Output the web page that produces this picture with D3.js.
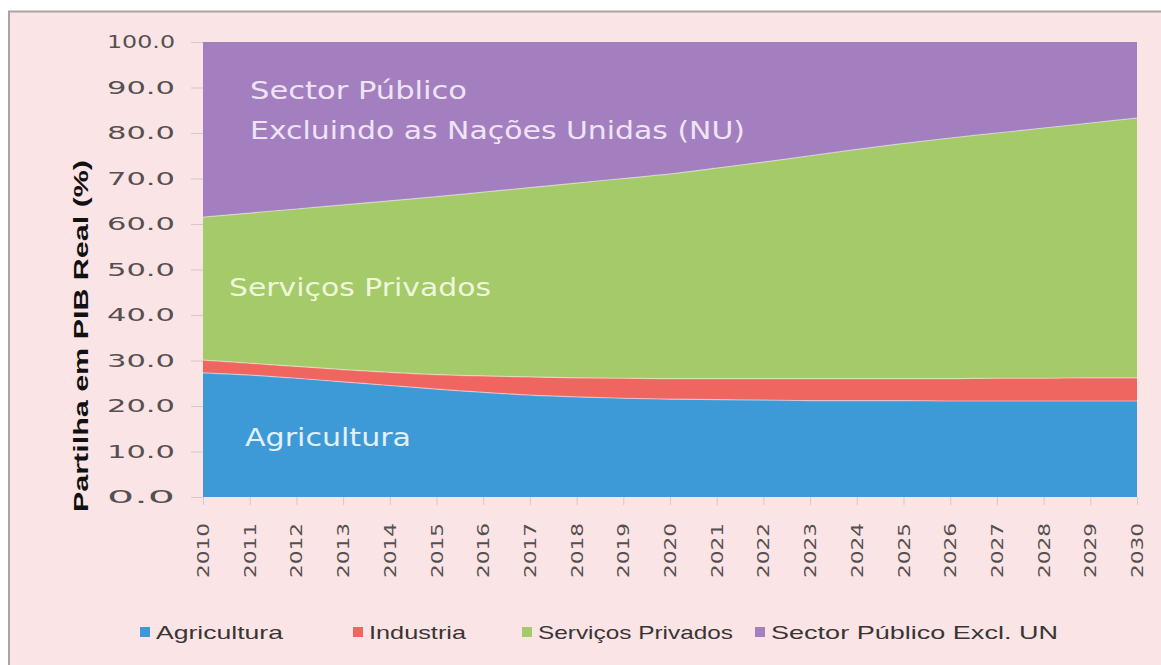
<!DOCTYPE html>
<html>
<head>
<meta charset="utf-8">
<script src="https://cdn.jsdelivr.net/npm/d3@7"></script>
<style>
  html, body { margin: 0; padding: 0; background: #ffffff; }
  svg { display: block; }
</style>
</head>
<body>
<svg id="chart" width="1161" height="665"></svg>
<script>
// Years on the horizontal axis
const years = [2010, 2011, 2012, 2013, 2014, 2015, 2016, 2017, 2018, 2019, 2020,
               2021, 2022, 2023, 2024, 2025, 2026, 2027, 2028, 2029, 2030];

// Share of real GDP (%) by sector
const agricultura = [27.3, 26.8, 26.1, 25.3, 24.5, 23.7, 23.0, 22.4, 22.0, 21.7, 21.5,
                     21.4, 21.3, 21.2, 21.2, 21.2, 21.1, 21.1, 21.1, 21.1, 21.1];
const industria   = [2.8, 2.6, 2.6, 2.7, 2.9, 3.2, 3.6, 4.0, 4.2, 4.4, 4.5,
                     4.6, 4.7, 4.8, 4.8, 4.8, 4.9, 5.0, 5.0, 5.1, 5.1];
const servicos    = [31.4, 33.0, 34.6, 36.2, 37.7, 39.1, 40.4, 41.6, 42.8, 43.9, 45.0,
                     46.3, 47.6, 49.0, 50.4, 51.7, 52.9, 53.9, 55.0, 56.0, 57.1];
const publico     = [38.5, 37.6, 36.7, 35.8, 34.9, 34.0, 33.0, 32.0, 31.0, 30.0, 29.0,
                     27.7, 26.4, 25.0, 23.6, 22.3, 21.1, 20.0, 18.9, 17.8, 16.7];

// Axis tick labels
const yTicks = [0, 10, 20, 30, 40, 50, 60, 70, 80, 90, 100];

// Series names (legend) and keys
const seriesKeys   = ["agricultura", "industria", "servicos", "publico"];
const legendLabels = ["Agricultura", "Industria", "Serviços Privados", "Sector Público Excl. UN"];
const colors       = ["#3d9ad6", "#ef6661", "#a5ca6a", "#a47fc0"];

// Table for the stack generator
const table = years.map((y, i) => ({
  year: y,
  agricultura: agricultura[i],
  industria: industria[i],
  servicos: servicos[i],
  publico: publico[i]
}));

const svg = d3.select("#chart");
const W = 1161, H = 665;

// Panel background and frame
svg.append("rect").attr("x", 0).attr("y", 0).attr("width", W).attr("height", H).attr("fill", "#ffffff");
svg.append("rect").attr("x", 9).attr("y", 11).attr("width", W - 9).attr("height", H - 11).attr("fill", "#fbe4e5");
svg.append("line").attr("x1", 8).attr("x2", W).attr("y1", 11.5).attr("y2", 11.5)
  .attr("stroke", "#a9a4a2").attr("stroke-width", 2);
svg.append("line").attr("x1", 9).attr("x2", 9).attr("y1", 11).attr("y2", H)
  .attr("stroke", "#a9a4a2").attr("stroke-width", 2);

const margin = { left: 203, right: 1137, top: 42, bottom: 497 };

const x = d3.scaleLinear().domain([2010, 2030]).range([margin.left, margin.right]);
const y = d3.scaleLinear().domain([0, 100]).range([margin.bottom, margin.top]);

const stack = d3.stack().keys(seriesKeys);
const layers = stack(table);

const area = d3.area()
  .x(d => x(d.data.year))
  .y0(d => y(d[0]))
  .y1(d => y(d[1]))
  .curve(d3.curveMonotoneX);

const topLine = d3.line()
  .x(d => x(d.data.year))
  .y(d => y(d[1]))
  .curve(d3.curveMonotoneX);

svg.append("g").selectAll("path")
  .data(layers)
  .join("path")
  .attr("d", area)
  .attr("fill", (d, i) => colors[i]);

// Thin light seams between stacked layers
svg.append("g").selectAll("path")
  .data(layers.slice(0, 3))
  .join("path")
  .attr("d", topLine)
  .attr("fill", "none")
  .attr("stroke", "#ffffff")
  .attr("stroke-opacity", 0.45)
  .attr("stroke-width", 1.2);

// Y axis
const yAxis = d3.axisLeft(y)
  .tickValues(yTicks)
  .tickFormat(d3.format(".1f"))
  .tickSize(12)
  .tickPadding(16);

const gy = svg.append("g").attr("transform", `translate(${margin.left},0)`).call(yAxis);
gy.select(".domain").remove();
gy.selectAll(".tick line").attr("stroke", "#d9c6c6").attr("stroke-width", 1);
gy.selectAll(".tick text")
  .attr("fill", "#555050")
  .attr("font-family", "DejaVu Sans, Verdana, sans-serif")
  .attr("font-size", 18)
  .attr("x", -28)
  .attr("textLength", 68)
  .attr("lengthAdjust", "spacingAndGlyphs");

// X axis with vertical year labels
const xAxis = d3.axisBottom(x)
  .tickValues(years)
  .tickFormat(d3.format("d"))
  .tickSize(8);

const gx = svg.append("g").attr("transform", `translate(0,${margin.bottom})`).call(xAxis);
gx.select(".domain").remove();
gx.selectAll(".tick line").attr("stroke", "#d9c6c6").attr("stroke-width", 1);
gx.selectAll(".tick text")
  .attr("fill", "#555050")
  .attr("font-family", "DejaVu Sans, Verdana, sans-serif")
  .attr("font-size", 16)
  .attr("transform", "rotate(-90)")
  .attr("text-anchor", "end")
  .attr("dominant-baseline", "central")
  .attr("dy", 0)
  .attr("x", -26)
  .attr("y", 0)
  .attr("textLength", 55)
  .attr("lengthAdjust", "spacingAndGlyphs");

// Y axis title
svg.append("text")
  .attr("transform", "translate(80,336) rotate(-90)")
  .attr("text-anchor", "middle")
  .attr("dominant-baseline", "central")
  .attr("font-family", "Liberation Sans, Arial, sans-serif")
  .attr("font-weight", "bold")
  .attr("font-size", 21)
  .attr("fill", "#111111")
  .attr("textLength", 352)
  .attr("lengthAdjust", "spacingAndGlyphs")
  .text("Partilha em PIB Real  (%)");

// Labels inside the areas
const inLabels = [
  { text: "Sector Público", x: 250, y: 99, w: 217, c: "#efe4f6" },
  { text: "Excluindo as Nações Unidas (NU)", x: 250, y: 139, w: 495, c: "#efe4f6" },
  { text: "Serviços Privados", x: 229, y: 296, w: 262, c: "#eef7dc" },
  { text: "Agricultura", x: 245, y: 446, w: 166, c: "#e2f1fb" }
];
svg.append("g").selectAll("text")
  .data(inLabels)
  .join("text")
  .attr("x", d => d.x)
  .attr("y", d => d.y)
  .attr("fill", d => d.c)
  .attr("font-family", "DejaVu Sans, Verdana, sans-serif")
  .attr("font-size", 24)
  .attr("textLength", d => d.w)
  .attr("lengthAdjust", "spacingAndGlyphs")
  .text(d => d.text);

// Legend
const legendX = [140, 353, 522, 755];
const legendW = [127, 97, 195, 287];
const lg = svg.append("g").selectAll("g")
  .data(legendLabels)
  .join("g")
  .attr("transform", (d, i) => `translate(${legendX[i]},632)`);
lg.append("rect")
  .attr("x", 0).attr("y", -5).attr("width", 10).attr("height", 10)
  .attr("fill", (d, i) => colors[i]);
lg.append("text")
  .attr("x", 16)
  .attr("y", 0)
  .attr("dominant-baseline", "central")
  .attr("fill", "#3a3535")
  .attr("font-family", "Liberation Sans Narrow, Liberation Sans, Arial, sans-serif")
  .attr("font-size", 19)
  .attr("textLength", (d, i) => legendW[i])
  .attr("lengthAdjust", "spacingAndGlyphs")
  .text(d => d);
</script>
</body>
</html>
